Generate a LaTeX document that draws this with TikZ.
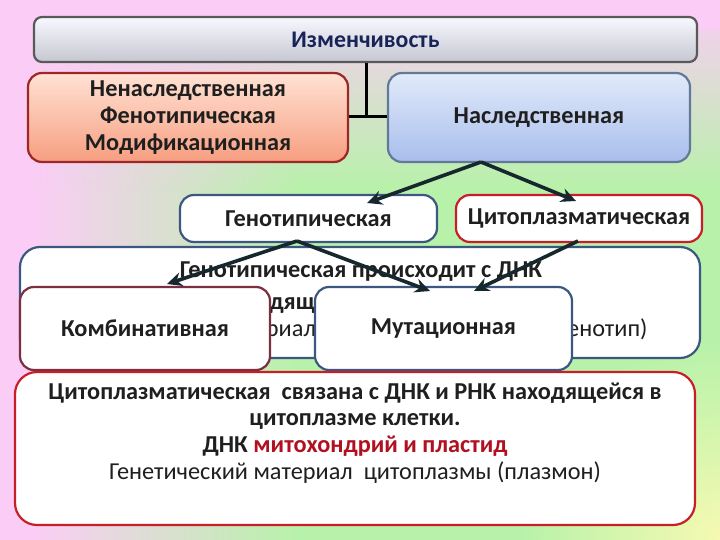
\documentclass[tikz,border=0pt]{standalone}
\usepackage{fontspec}
\setmainfont{Carlito}
\usetikzlibrary{arrows.meta, positioning, calc, fadings}
\definecolor{pinkbg}{RGB}{251, 205, 246}
\definecolor{greenbg}{RGB}{184, 242, 170}
\definecolor{yellowbg}{RGB}{246, 250, 178}
\definecolor{bluebd}{RGB}{60, 88, 128}
\definecolor{redbd}{RGB}{200, 30, 40}
\definecolor{maroonbd}{RGB}{122, 48, 64}
\definecolor{arrowcol}{RGB}{22, 40, 46}
\definecolor{redtext}{RGB}{176, 16, 32}
\definecolor{titletext}{RGB}{24, 36, 88}
\definecolor{peachtop}{RGB}{255, 226, 212}
\definecolor{peachbot}{RGB}{247, 158, 128}
\definecolor{skytop}{RGB}{226, 234, 250}
\definecolor{skybot}{RGB}{168, 190, 236}
\tikzfading[name=glow, inner color=transparent!0, outer color=transparent!100]

\tikzset{
  box/.style={draw, rounded corners=14, line width=2.2pt, fill=white, text=black!88, font=\bfseries\fontsize{24.3}{26.6}\selectfont, align=center, inner sep=0pt},
  link/.style={-{Stealth[length=15pt, width=14pt]}, line width=3.6pt, arrowcol},
  plain/.style={font=\fontsize{24.3}{26.6}\selectfont, text=black!88, align=center},
}

\begin{document}
\begin{tikzpicture}[x=1pt, y=-1pt]
  \useasboundingbox (0,0) rectangle (720,540);
  % background
  \fill[pinkbg] (0,0) rectangle (720,540);
  \shade[left color=pinkbg, right color=greenbg] (30,0) rectangle (300,540);
  \fill[greenbg] (300,0) rectangle (720,540);
  \fill[pinkbg, path fading=south] (0,0) rectangle (720,190);
  \fill[pinkbg] (0,0) rectangle (720,30);
  \fill[yellowbg, path fading=glow] (720,540) circle (200);

  % top level
  \node[box, draw=black!65, top color=blue!3, bottom color=blue!20!black!22, rounded corners=8, minimum width=663, minimum height=45, text=titletext, font=\bfseries\fontsize{23.8}{26}\selectfont] (vary) at (365.5,39.5) {Изменчивость};
  \node[box, draw=red!55!black!85, top color=peachtop, bottom color=peachbot, minimum width=320, minimum height=89] (nonher) at (188,117.5) {Ненаследственная\\Фенотипическая\\Модификационная};
  \node[box, draw=bluebd!80, top color=skytop, bottom color=skybot, minimum width=302, minimum height=89] (her) at (539,117.5) {Наследственная};
  \coordinate (joint) at (366,117);
  \draw[line width=3pt] (vary.south -| joint) -- (joint);
  \draw[line width=3pt] (nonher.east |- joint) -- (her.west |- joint);

  % second level
  \node[box, draw=bluebd, minimum width=257, minimum height=47] (geno) at (308.5,218.5) {Генотипическая};
  \node[box, draw=redbd, minimum width=246, minimum height=47] (cyto) at (579,218.5) {Цитоплазматическая};

  % genotypic explanation
  \node[box, draw=bluebd, rounded corners=20, minimum width=680, minimum height=111] (genoinfo) at (360,302.5) {};
  \node[plain, font=\bfseries\fontsize{24.3}{26.6}\selectfont] (genoA) at (361,272) {Генотипическая происходит с ДНК};
  \node[plain, font=\bfseries\fontsize{24.3}{26.6}\selectfont, anchor=west] (genoB) at (217,303) {находящейся в ядре клетки.};
  \node[plain, anchor=east] (genoC) at (651,330) {\spaceskip=3pt Генетический материал хромосом ядра клетки (генотип)};

  % third level
  \node[box, draw=maroonbd, minimum width=250, minimum height=83] (comb) at (145,328.5) {Комбинативная};
  \node[box, draw=bluebd, minimum width=257, minimum height=83] (mut) at (443.5,328.5) {Мутационная};

  % cytoplasmic explanation
  \node[box, draw=redbd, rounded corners=22, minimum width=680, minimum height=153] (cytoinfo) at (355,448.5) {};
  \node[plain, font=\bfseries\fontsize{24.3}{26.7}\selectfont] (cytotext) at (355,433)
    {Цитоплазматическая\ \ связана с ДНК и РНК находящейся в\\цитоплазме клетки.\\ДНК \textcolor{redtext}{митохондрий и пластид}\\\mdseries Генетический материал\ \ цитоплазмы (плазмон)};

  % arrows
  \coordinate (herfoot) at (481,162);
  \coordinate (genofoot) at (297,241);
  \coordinate (cytofoot) at (578,241);
  \coordinate (genotip) at (367,203);
  \coordinate (cytotip) at (576,201);
  \coordinate (combtip) at (167,284);
  \coordinate (muttipA) at (430,291);
  \coordinate (muttipB) at (474,291);
  \draw[link] (herfoot) -- (genotip);
  \draw[link] (herfoot) -- (cytotip);
  \draw[link] (genofoot) -- (combtip);
  \draw[link] (genofoot) -- (muttipA);
  \draw[link] (cytofoot) -- (muttipB);
\end{tikzpicture}
\end{document}
